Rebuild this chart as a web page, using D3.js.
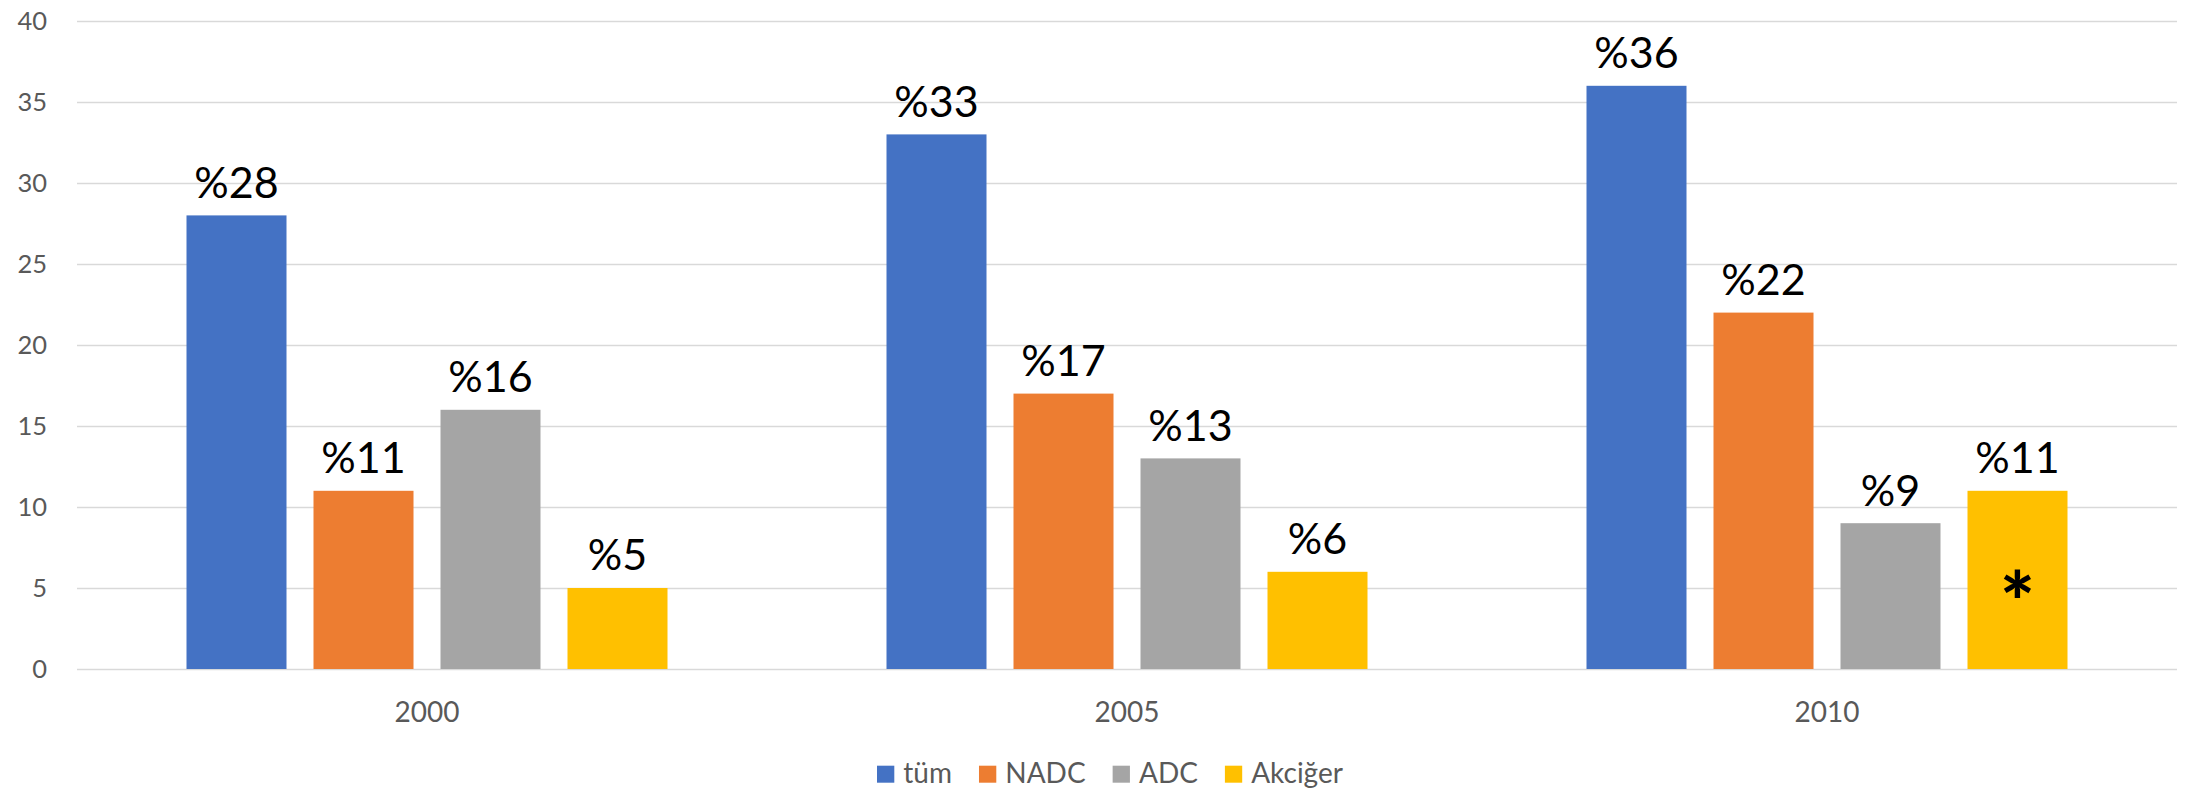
<!DOCTYPE html>
<html>
<head>
<meta charset="utf-8">
<script src="https://cdn.jsdelivr.net/npm/d3@7"></script>
<style>
  html, body { margin: 0; padding: 0; background: #ffffff; }
  svg { display: block; }
</style>
</head>
<body>
<svg id="chart" width="2185" height="790"></svg>
<script>
// Years on the category axis
const years = ["2000", "2005", "2010"];
// Series names (legend order)
const seriesNames = ["tüm", "NADC", "ADC", "Akciğer"];
// Values per series, one entry per year
const tum     = [28, 33, 36];
const nadc    = [11, 17, 22];
const adc     = [16, 13, 9];
const akciger = [5, 6, 11];
// Series colours
const seriesColors = ["#4472C4", "#ED7D31", "#A5A5A5", "#FFC000"];
// Value-axis ticks
const yTicks = [0, 5, 10, 15, 20, 25, 30, 35, 40];
// Bars that carry a significance marker: [series index, year index]
const starred = [[3, 2]];

const seriesValues = [tum, nadc, adc, akciger];

const svg = d3.select("#chart");
const plotLeft = 77, plotRight = 2177, plotTop = 21, plotBottom = 669;

const y = d3.scaleLinear().domain([0, 40]).range([plotBottom, plotTop]);
const x = d3.scaleBand().domain(years).range([plotLeft, plotRight]).padding(0);
const inner = d3.scaleBand()
  .domain(seriesNames)
  .range([109.5, 590.5])
  .paddingInner(27 / 127)
  .paddingOuter(0);

// Horizontal gridlines + value labels
const yAxis = d3.axisLeft(y).tickValues(yTicks).tickSize(-(plotRight - plotLeft)).tickPadding(30);
const gy = svg.append("g").attr("transform", `translate(${plotLeft},0)`).call(yAxis);
gy.select(".domain").remove();
gy.selectAll(".tick line").attr("stroke", "#d9d9d9").attr("stroke-width", 1.5);
gy.selectAll(".tick text")
  .attr("x", 47 - plotLeft)
  .attr("dy", "0.35em")
  .attr("fill", "#595959")
  .style("font-family", "Lato, 'Open Sans', sans-serif")
  .style("font-size", "25.5px");

// Category labels
const xAxis = d3.axisBottom(x).tickSize(0).tickPadding(0);
const gx = svg.append("g").attr("transform", `translate(0,${plotBottom})`).call(xAxis);
gx.select(".domain").remove();
gx.selectAll(".tick text")
  .attr("y", 721.7 - plotBottom)
  .attr("dy", 0)
  .attr("fill", "#595959")
  .style("font-family", "Lato, 'Open Sans', sans-serif")
  .style("font-size", "28px");

// Bars grouped by year
const rows = [];
years.forEach((yr, yi) => {
  seriesNames.forEach((s, si) => {
    rows.push({ year: yr, yi, series: s, si, value: seriesValues[si][yi] });
  });
});

svg.append("g").selectAll("rect")
  .data(rows)
  .join("rect")
  .attr("x", d => x(d.year) + inner(d.series))
  .attr("y", d => y(d.value))
  .attr("width", inner.bandwidth())
  .attr("height", d => y(0) - y(d.value))
  .attr("fill", d => seriesColors[d.si]);

// Value labels above each bar
svg.append("g").selectAll("text")
  .data(rows)
  .join("text")
  .attr("x", d => x(d.year) + inner(d.series) + inner.bandwidth() / 2)
  .attr("y", d => y(d.value) - 17.7)
  .attr("text-anchor", "middle")
  .attr("fill", "#000000")
  .style("font-family", "Lato, 'Open Sans', sans-serif")
  .style("font-size", "43px")
  .text(d => "%" + d.value);

// Significance marker centred inside the bar
svg.append("g").selectAll("text")
  .data(starred.map(([si, yi]) => ({ si, yi, series: seriesNames[si], year: years[yi], value: seriesValues[si][yi] })))
  .join("text")
  .attr("x", d => x(d.year) + inner(d.series) + inner.bandwidth() / 2)
  .attr("y", d => y(d.value / 2) + 52)
  .attr("text-anchor", "middle")
  .attr("fill", "#000000")
  .style("font-family", "Lato, 'Open Sans', sans-serif")
  .style("font-weight", "900")
  .style("font-size", "82px")
  .text("*");

// Legend
const legend = svg.append("g");
let lx = 877;
seriesNames.forEach((name, i) => {
  legend.append("rect")
    .attr("x", lx).attr("y", 765.7)
    .attr("width", 17.3).attr("height", 17)
    .attr("fill", seriesColors[i]);
  const t = legend.append("text")
    .attr("x", lx + 26.3).attr("y", 783.3)
    .attr("fill", "#595959")
    .style("font-family", "Lato, 'Open Sans', sans-serif")
    .style("font-size", "28px")
    .text(name);
  const w = t.node().getComputedTextLength();
  lx = lx + 26.3 + w + 27;
});
</script>
</body>
</html>
